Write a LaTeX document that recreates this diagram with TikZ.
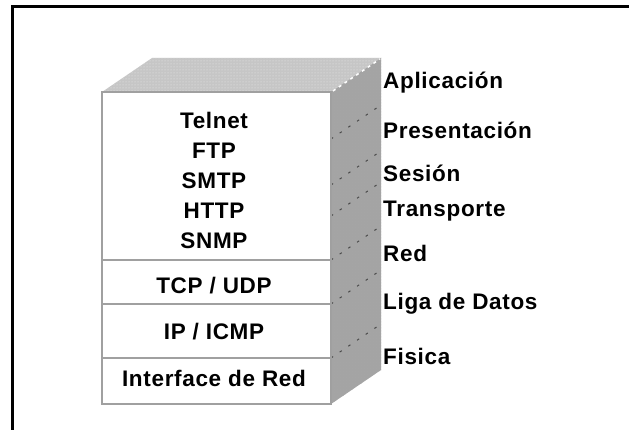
\documentclass[tikz,border=0pt]{standalone}
\usepackage{fontspec}
\setmainfont{Liberation Sans}[LetterSpace=3]
\usetikzlibrary{patterns}
\definecolor{topgray}{HTML}{C6C6C6}
\definecolor{sidegray}{HTML}{A4A4A4}
\definecolor{edgegray}{HTML}{A0A0A0}
\definecolor{dashgray}{HTML}{4A4A4A}
\begin{document}
\begin{tikzpicture}[x=1pt,y=-1pt,
  lbl/.style={font=\fontsize{22.5}{26}\selectfont\bfseries, inner sep=0pt, text height=16pt, text depth=3pt},
  layer/.style={lbl, anchor=west},
  frontface/.style={draw=edgegray, line width=1.6pt, fill=white},
  divider/.style={draw=edgegray, line width=1.4pt},
  sidedash/.style={draw=dashgray, line width=1pt, dash pattern=on 2.5pt off 8pt},
  highlight/.style={draw=white, line width=1.5pt, dash pattern=on 3pt off 4pt}]
\useasboundingbox (0,0) rectangle (629,430);
\fill[white] (0,0) rectangle (629,430);
% frame
\draw[line width=3pt] (629,7) -- (12,7) -- (12,430);
% top face
\fill[topgray] (102,92) -- (152,58) -- (381,58) -- (331,92) -- cycle;
\fill[pattern=dots, pattern color=white!92!black] (102,92) -- (152,58) -- (381,58) -- (331,92) -- cycle;
% right face
\fill[sidegray] (331,92) -- (381,58) -- (381,370) -- (331,404) -- cycle;
\fill[pattern=crosshatch dots, pattern color=gray!70] (331,92) -- (381,58) -- (381,370) -- (331,404) -- cycle;
\draw[highlight] (333,91) -- (380,59);
% dashed layer boundaries on right face
\draw[sidedash] (331,139) -- (381,105);
\draw[sidedash] (331,185) -- (381,151);
\draw[sidedash] (331,216) -- (381,182);
\draw[sidedash] (331,260) -- (381,226);
\draw[sidedash] (331,304) -- (381,270);
\draw[sidedash] (331,358) -- (381,324);
% front face
\draw[frontface] (102,92) rectangle (331,404);
\draw[divider] (102,260) -- (331,260);
\draw[divider] (102,304) -- (331,304);
\draw[divider] (102,358) -- (331,358);
% protocol labels
\node[lbl] (telnet) at (214,122) {Telnet};
\node[lbl] (ftp) at (214,152) {FTP};
\node[lbl] (smtp) at (214,182) {SMTP};
\node[lbl] (http) at (214,212) {HTTP};
\node[lbl] (snmp) at (214,242) {SNMP};
\node[lbl] (tcp) at (214,287) {TCP / UDP};
\node[lbl] (ip) at (214,333) {IP / ICMP};
\node[lbl] (iface) at (214,380) {Interface de Red};
% OSI layer labels
\node[layer] (apl) at (383,82) {Aplicación};
\node[layer] (pres) at (383,132) {Presentación};
\node[layer] (ses) at (383,175) {Sesión};
\node[layer] (trans) at (383,210) {Transporte};
\node[layer] (red) at (383,255) {Red};
\node[layer] (liga) at (383,303) {Liga de Datos};
\node[layer] (fis) at (383,358) {Fisica};
\end{tikzpicture}
\end{document}
